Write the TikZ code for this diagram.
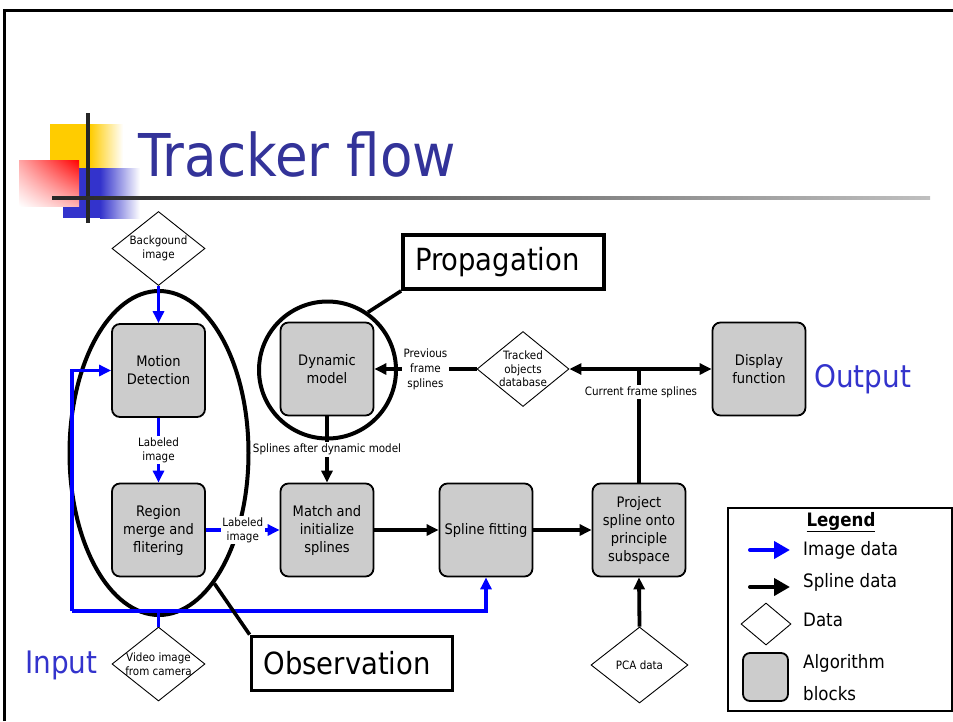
\documentclass[tikz,border=0pt]{standalone}
\usepackage{fontspec}
\setmainfont{DejaVu Sans}[FakeStretch=0.9]
\usetikzlibrary{shapes.geometric,arrows.meta,shadings}

\definecolor{boxgray}{HTML}{CCCCCC}
\definecolor{titleblue}{HTML}{333399}
\definecolor{ioblue}{HTML}{3333CC}
\definecolor{imgblue}{HTML}{0000FF}
\definecolor{decoyellow}{HTML}{FFCC00}
\definecolor{decoblue}{HTML}{3333CC}

\tikzset{
  algo/.style={draw, line width=1.8pt, fill=boxgray, rounded corners=8pt,
    minimum width=93pt, minimum height=93pt, align=center, inner sep=2pt,
    font=\fontsize{14.5}{18}\selectfont},
  datashape/.style={diamond, draw, line width=0.9pt, fill=white, inner sep=0pt},
  dtext/.style={align=center, inner sep=0pt, font=\fontsize{11.5}{13.5}\selectfont},
  lbl/.style={fill=white, align=center, inner sep=1.5pt, font=\fontsize{11.5}{14}\selectfont},
  imgline/.style={draw=imgblue, line width=3.8pt},
  imgarrow/.style={imgline, -{Triangle[length=12pt,width=11pt]}},
  splline/.style={draw=black, line width=3.8pt},
  splarrow/.style={splline, -{Triangle[length=12pt,width=11pt]}},
  calloutbox/.style={draw, line width=3.8pt, fill=white, inner xsep=12pt, inner ysep=0pt,
    text width=177pt, minimum height=54pt, align=left, font=\fontsize{30.5}{36}\selectfont},
  callline/.style={line width=3.6pt},
  iotext/.style={text=ioblue, inner sep=0pt, font=\fontsize{31}{36}\selectfont},
  legtext/.style={anchor=west, inner sep=0pt, font=\fontsize{18.5}{22}\selectfont},
}

\begin{document}
\begin{tikzpicture}[x=1pt,y=-1pt]
\useasboundingbox (0,0) rectangle (953,721);

% slide frame
\draw[line width=3pt] (4.5,721) -- (4.5,10) -- (953,10);

% title ornament
\fill[decoyellow] (50,124) rectangle (90,168);
\shade[left color=decoyellow, right color=white] (90,124) rectangle (123,168);
\fill[decoblue] (63,168) rectangle (100,218);
\shade[left color=decoblue, right color=white] (100,168) rectangle (140,218);
\shade[upper left=red!35, upper right=red, lower left=white, lower right=red!30] (19,160) rectangle (79,206);
\fill[black!85] (86,113) rectangle (90,223);
\shade[left color=black!85, right color=black!25] (52,196.5) rectangle (930,199.5);

\node[anchor=base west, inner sep=0pt, text=titleblue, font=\fontsize{59}{62}\selectfont]
  (title) at (138,176) {Tracker flow};

% grouping outlines
\node[ellipse, draw, line width=4pt, minimum width=179pt, minimum height=324pt, inner sep=0pt]
  (obs) at (159,453) {};
\node[circle, draw, line width=4pt, minimum size=137pt, inner sep=0pt]
  (prop) at (327.5,370) {};

% algorithm blocks
\node[algo] (md) at (158.5,370.5) {Motion\\Detection};
\node[algo] (rg) at (158.5,530) {Region\\merge and\\flitering};
\node[algo] (dm) at (327,369) {Dynamic\\model};
\node[algo] (mt) at (327,530) {Match and\\initialize\\splines};
\node[algo] (sf) at (486,530) {Spline fitting};
\node[algo] (pj) at (639,530) {Project\\spline onto\\principle\\subspace};
\node[algo] (df) at (759,369) {Display\\function};

% data items
\node[datashape, minimum width=93pt, minimum height=74pt] (bg) at (158.5,248.5) {};
\node[dtext] (bgt) at (bg.center) {Backgound\\image};
\node[datashape, minimum width=93pt, minimum height=74pt] (vid) at (158.5,664) {};
\node[dtext] (vidt) at (vid.center) {Video image\\from camera};
\node[datashape, minimum width=92pt, minimum height=75pt] (td) at (523,369) {};
\node[dtext] (tdt) at (td.center) {Tracked\\objects\\database};
\node[datashape, minimum width=97pt, minimum height=76pt] (pca) at (639.5,665) {};
\node[dtext] (pcat) at (pca.center) {PCA data};

% image data flow
\draw[imgarrow] (bg.south) -- (md.north);
\draw[imgarrow] (md.south) -- node[lbl] (lab1) {Labeled\\image} (rg.north);
\draw[imgarrow] (rg.east) -- node[lbl] (lab2) {Labeled\\image} (mt.west);
\coordinate (bl) at (72,611);
\coordinate (br) at (486,611);
\draw[imgline] (vid.north) -- (vid.north |- bl);
\draw[imgarrow] (bl) -- (bl |- md.west) -- (md.west);
\draw[imgarrow] (bl) -- (br) -- (sf.south);

% spline data flow
\draw[splarrow] (dm.south) -- node[lbl] (lab3) {Splines after dynamic model} (mt.north);
\draw[splarrow] (td.west) -- node[lbl, font=\fontsize{11.5}{15}\selectfont] (lab4) {Previous\\frame\\splines} (dm.east);
\draw[splline, {Triangle[length=12pt,width=11pt]}-{Triangle[length=12pt,width=11pt]}] (td.east) -- (df.west);
\draw[splline] (pj.north) -- (pj.north |- td.east);
\node[lbl] (lab5) at (641,392) {Current frame splines};
\draw[splarrow] (mt.east) -- (sf.west);
\draw[splarrow] (sf.east) -- (pj.west);
\draw[splarrow] (pca.north) -- (pj.south);

% callouts
\node[calloutbox] (propbox) at (503.5,262) {Propagation};
\node[calloutbox] (obsbox) at (352,663.5) {Observation};
\draw[callline] (prop.55) -- (propbox.south west);
\draw[callline] (obs.-67) -- (obsbox.north west);

% input / output
\node[iotext, anchor=base west] (inp) at (25,673) {Input};
\node[iotext, anchor=base west] (outp) at (814,387) {Output};

% legend
\node[draw, line width=1.2pt, minimum width=224pt, minimum height=203pt, inner sep=0pt]
  (legend) at (840,609.5) {};
\node[inner sep=0pt, font=\fontsize{18.5}{22}\selectfont] (legtitle) at (841,522) {\underline{\textbf{Legend}}};
\coordinate (la1) at (750,550);
\coordinate (la2) at (790,550);
\coordinate (lb1) at (750,587);
\coordinate (lb2) at (790,587);
\draw[imgblue, line width=4pt, line cap=round, -{Triangle[length=16pt,width=17pt]}] (la1) -- (la2);
\draw[black, line width=4pt, line cap=round, -{Triangle[length=16pt,width=17pt]}] (lb1) -- (lb2);
\node[datashape, minimum width=50pt, minimum height=42pt] (legd) at (766,624) {};
\node[draw, line width=1.8pt, fill=boxgray, rounded corners=7pt, minimum width=45pt, minimum height=48pt, inner sep=0pt]
  (legb) at (765.5,677) {};
\node[legtext] (lt1) at (803,550) {Image data};
\node[legtext] (lt2) at (803,582) {Spline data};
\node[legtext] (lt3) at (803,620) {Data};
\node[legtext] (lt4) at (803,663) {Algorithm};
\node[legtext] (lt5) at (803,694) {blocks};
\end{tikzpicture}
\end{document}
